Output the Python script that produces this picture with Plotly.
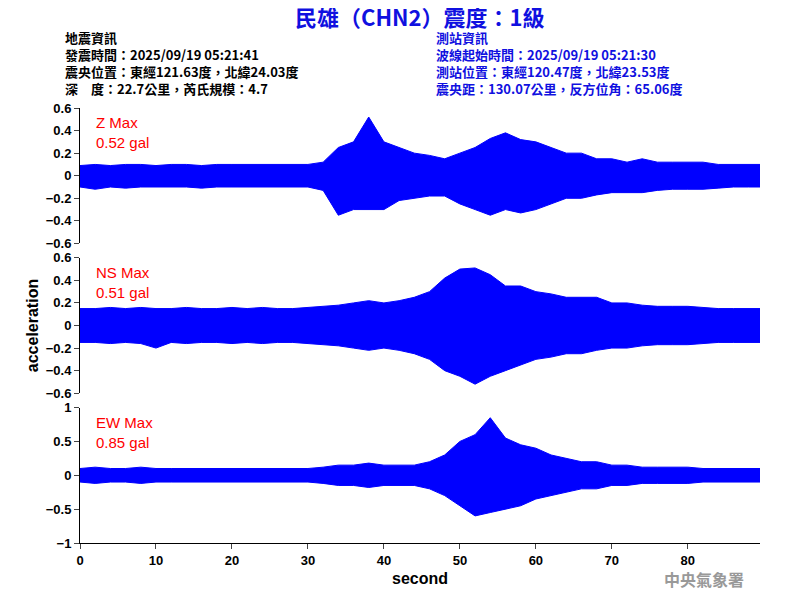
import plotly.graph_objects as go
from plotly.subplots import make_subplots

# envelope of each trace, every 2 s (0..90 s)
t = list(range(0, 91, 2))
z_up = [0.09, 0.1, 0.09, 0.1, 0.1, 0.09, 0.1, 0.1, 0.09, 0.1, 0.1, 0.1, 0.1, 0.1, 0.1, 0.1, 0.12,
        0.25, 0.3, 0.52, 0.3, 0.25, 0.2, 0.18, 0.15, 0.2, 0.25, 0.33, 0.38, 0.32, 0.3, 0.25, 0.2,
        0.2, 0.15, 0.15, 0.12, 0.15, 0.12, 0.12, 0.12, 0.12, 0.1, 0.1, 0.1, 0.1]
z_lo = [-0.1, -0.12, -0.1, -0.11, -0.1, -0.1, -0.1, -0.1, -0.11, -0.1, -0.1, -0.1, -0.1, -0.1, -0.1, -0.1, -0.13,
        -0.35, -0.3, -0.3, -0.3, -0.22, -0.2, -0.18, -0.18, -0.25, -0.3, -0.35, -0.3, -0.33, -0.3, -0.25, -0.2,
        -0.2, -0.17, -0.15, -0.15, -0.15, -0.13, -0.12, -0.12, -0.12, -0.11, -0.1, -0.1, -0.1]
ns_up = [0.15, 0.15, 0.16, 0.15, 0.16, 0.15, 0.15, 0.16, 0.15, 0.15, 0.16, 0.15, 0.16, 0.15, 0.15, 0.16, 0.17,
         0.18, 0.2, 0.22, 0.2, 0.22, 0.25, 0.3, 0.42, 0.5, 0.51, 0.45, 0.35, 0.35, 0.3, 0.28, 0.25,
         0.25, 0.25, 0.2, 0.2, 0.18, 0.17, 0.17, 0.17, 0.16, 0.15, 0.15, 0.15, 0.15]
ns_lo = [-0.15, -0.15, -0.16, -0.15, -0.16, -0.2, -0.15, -0.16, -0.15, -0.15, -0.16, -0.15, -0.16, -0.15, -0.15, -0.16, -0.17,
         -0.18, -0.2, -0.22, -0.2, -0.22, -0.25, -0.3, -0.4, -0.45, -0.52, -0.45, -0.4, -0.35, -0.3, -0.28, -0.25,
         -0.25, -0.22, -0.2, -0.2, -0.18, -0.17, -0.17, -0.17, -0.16, -0.15, -0.15, -0.15, -0.15]
ew_up = [0.1, 0.12, 0.1, 0.1, 0.12, 0.1, 0.1, 0.1, 0.1, 0.1, 0.1, 0.1, 0.1, 0.1, 0.1, 0.1, 0.12,
         0.15, 0.15, 0.18, 0.15, 0.15, 0.15, 0.2, 0.3, 0.5, 0.6, 0.85, 0.55, 0.45, 0.4, 0.3, 0.25,
         0.2, 0.2, 0.15, 0.15, 0.12, 0.12, 0.12, 0.12, 0.1, 0.1, 0.1, 0.1, 0.1]
ew_lo = [-0.1, -0.12, -0.1, -0.1, -0.12, -0.1, -0.1, -0.1, -0.1, -0.1, -0.1, -0.1, -0.1, -0.1, -0.1, -0.1, -0.12,
         -0.15, -0.15, -0.18, -0.15, -0.15, -0.15, -0.2, -0.3, -0.45, -0.6, -0.55, -0.5, -0.45, -0.35, -0.3, -0.25,
         -0.2, -0.2, -0.15, -0.15, -0.12, -0.12, -0.12, -0.12, -0.1, -0.1, -0.1, -0.1, -0.1]

panels = [("Z Max", "0.52 gal", z_up, z_lo, [-0.6, 0.6], 0.2),
          ("NS Max", "0.51 gal", ns_up, ns_lo, [-0.6, 0.6], 0.2),
          ("EW Max", "0.85 gal", ew_up, ew_lo, [-1, 1], 0.5)]

fig = make_subplots(rows=3, cols=1, shared_xaxes=True, vertical_spacing=0.033)
font = "Arial, Liberation Sans, sans-serif"

for i, (name, val, up, lo, rng, dt) in enumerate(panels, start=1):
    fig.add_trace(go.Scatter(x=t, y=up, mode="lines", line=dict(color="blue", width=1),
                             showlegend=False, hoverinfo="skip"), row=i, col=1)
    fig.add_trace(go.Scatter(x=t, y=lo, mode="lines", line=dict(color="blue", width=1),
                             fill="tonexty", fillcolor="blue", showlegend=False,
                             hoverinfo="skip"), row=i, col=1)
    fig.update_yaxes(range=rng, dtick=dt, showgrid=False, zeroline=False, showline=True,
                     linecolor="black", ticks="outside", ticklen=5,
                     tickfont=dict(size=13, family=font, color="black", weight="bold"),
                     row=i, col=1)
    fig.add_annotation(x=0.02, y=0.97, xref=f"x{'' if i == 1 else i} domain",
                       yref=f"y{'' if i == 1 else i} domain", xanchor="left", yanchor="top",
                       text=f"{name}<br>{val}", showarrow=False, align="left",
                       font=dict(color="red", size=15, family=font))

fig.update_xaxes(range=[0, 89.5], dtick=10, showgrid=False, zeroline=False, showline=False,
                 ticks="", showticklabels=False)
fig.update_xaxes(showline=True, linecolor="black", ticks="outside", ticklen=5, showticklabels=True,
                 tickfont=dict(size=13, family=font, color="black", weight="bold"),
                 title=dict(text="second", font=dict(size=16, family=font, weight="bold", color="black"),
                            standoff=6),
                 row=3, col=1)

cjk = "Noto Sans CJK TC"
fig.add_annotation(x=0.5, y=1, xref="paper", yref="paper", yshift=74, yanchor="bottom", showarrow=False,
                   text="民雄（CHN2）震度：1級", font=dict(size=22, color="#1010e0", family=cjk, weight="bold"))
fig.add_annotation(x=-0.025, y=1, xref="paper", yref="paper", yshift=8, xanchor="left", yanchor="bottom",
                   showarrow=False, align="left",
                   text="地震資訊<br>發震時間：2025/09/19 05:21:41<br>震央位置：東經121.63度，北緯24.03度<br>深　度：22.7公里，芮氏規模：4.7",
                   font=dict(size=13, color="black", family=cjk, weight="bold"))
fig.add_annotation(x=0.52, y=1, xref="paper", yref="paper", yshift=8, xanchor="left", yanchor="bottom",
                   showarrow=False, align="left",
                   text="測站資訊<br>波線起始時間：2025/09/19 05:21:30<br>測站位置：東經120.47度，北緯23.53度<br>震央距：130.07公里，反方位角：65.06度",
                   font=dict(size=13, color="#1010e0", family=cjk, weight="bold"))
fig.add_annotation(x=-0.085, y=0.5, xref="paper", yref="paper", textangle=-90, showarrow=False,
                   text="acceleration", font=dict(size=16, family=font, weight="bold", color="black"))
fig.add_annotation(x=0.98, y=0, xref="paper", yref="paper", yshift=-50, xanchor="right", showarrow=False,
                   text="中央氣象署", font=dict(size=16, color="#999999", family=cjk, weight="bold"))

fig.update_layout(width=800, height=600, margin=dict(l=72, r=48, t=100, b=65),
                  plot_bgcolor="white", paper_bgcolor="white")
fig.write_html("out.html")
